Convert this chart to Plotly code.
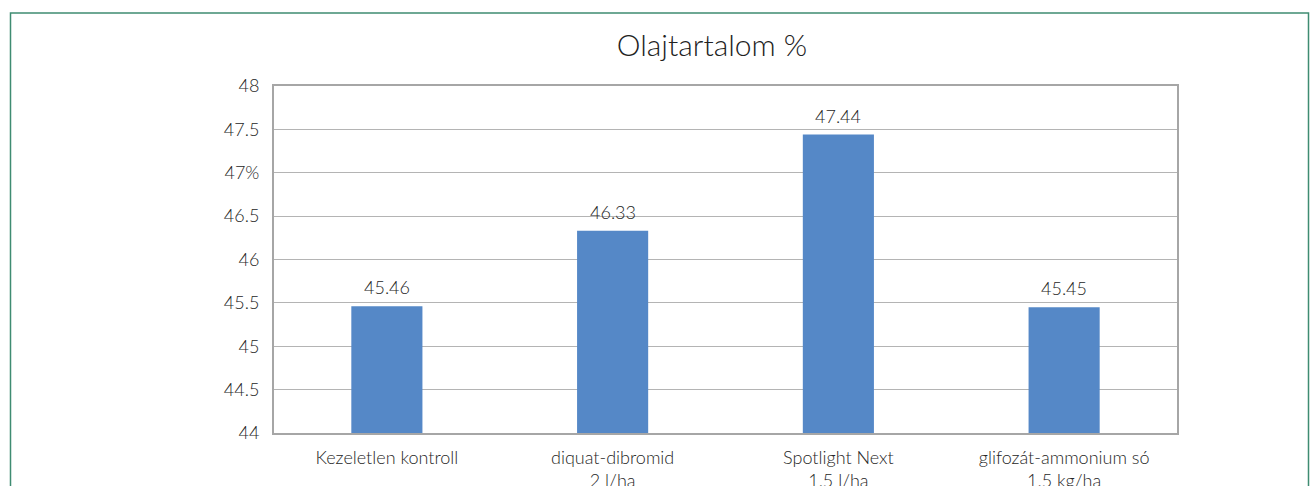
import plotly.graph_objects as go

categories = ["Kezeletlen kontroll", "diquat-dibromid<br>2 l/ha", "Spotlight Next<br>1.5 l/ha", "glifozát-ammonium só<br>1.5 kg/ha"]
values = [45.46, 46.33, 47.44, 45.45]
value_labels = ["45.46", "46.33", "47.44", "45.45"]
y_tickvals = [44, 44.5, 45, 45.5, 46, 46.5, 47, 47.5, 48]
y_ticktext = ["44", "44.5", "45", "45.5", "46", "46.5", "47%", "47.5", "48"]
title_text = "Olajtartalom %"

W, H = 1311, 486
L, R, T, B = 274, 1177, 86, 433

fig = go.Figure(go.Bar(
    x=categories, y=values,
    marker=dict(color="#5588C7", line=dict(width=0)),
    width=0.315,
))

for c, v, t in zip(categories, values, value_labels):
    fig.add_annotation(x=c, y=v, text=t, showarrow=False, yanchor="middle",
                       yshift=19, font=dict(size=18, color="#262626", weight=300))

pw, ph = R - L, B - T
fig.add_shape(type="rect", xref="paper", yref="paper",
              x0=(10.5 - L) / pw, x1=(1308.5 - L) / pw,
              y0=(B - 560) / ph, y1=(B - 13) / ph,
              line=dict(color="#3F8C72", width=1.5), layer="below")

fig.update_layout(
    width=W, height=H,
    margin=dict(l=L, r=W - R, t=T, b=H - B, autoexpand=False),
    paper_bgcolor="white", plot_bgcolor="white",
    font=dict(family="Lato, Noto Sans, sans-serif", color="#262626", size=18, weight=300),
    title=dict(text=title_text, x=712 / W, xanchor="center", y=1 - 45 / H, yanchor="middle",
               font=dict(size=30, color="#222222", weight=300)),
    showlegend=False,
)
fig.update_yaxes(range=[44, 48], tickvals=y_tickvals, ticktext=y_ticktext,
                 showgrid=True, gridcolor="#B4B4B4", gridwidth=1,
                 showline=True, linecolor="#A6A6A6", linewidth=2, mirror=True,
                 ticks="", ticklabelstandoff=9, zeroline=False, automargin=False,
                 tickfont=dict(size=18, color="#262626", weight=300))
fig.update_xaxes(showline=True, linecolor="#A6A6A6", linewidth=2, mirror=True,
                 ticks="", ticklabelstandoff=7, automargin=False,
                 tickfont=dict(size=18, color="#262626", weight=300))

fig.write_html("out.html", config={"displayModeBar": False},
               post_script="document.body.style.margin='0';document.body.style.overflow='hidden';")
